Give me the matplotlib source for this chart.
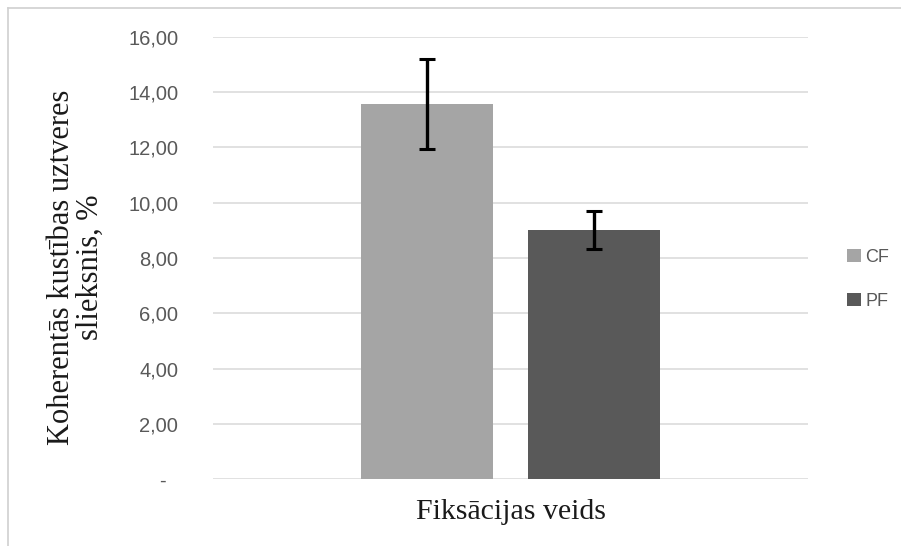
import matplotlib
matplotlib.use("Agg")
import matplotlib.pyplot as plt
from matplotlib.lines import Line2D
from matplotlib.patches import Patch
from matplotlib.ticker import FixedLocator, FuncFormatter

# --- Data ---
series = ["CF", "PF"]
means = [13.57, 9.02]
errors = [1.63, 0.68]
colors = ["#A5A5A5", "#595959"]
y_ticks = [0, 2, 4, 6, 8, 10, 12, 14, 16]

fig = plt.figure(figsize=(9.01, 5.46), dpi=100)
ax = fig.add_axes([0.2364, 0.1222, 0.6604, 0.8106])

offsets = [-0.141, 0.141]
width = 0.222
for off, m, e, c in zip(offsets, means, errors, colors):
    ax.bar(off, m, width=width, color=c, zorder=2)
    ax.errorbar(off, m, yerr=e, fmt="none", ecolor="black", elinewidth=2.4,
                capsize=5.5, capthick=2.2, zorder=3)

ax.set_xlim(-0.5, 0.5)
ax.set_ylim(0, 16)
ax.yaxis.set_major_locator(FixedLocator(y_ticks))
ax.yaxis.set_major_formatter(
    FuncFormatter(lambda v, p: "-  " if v == 0 else f"{v:.2f}".replace(".", ",")))
ax.set_xticks([])
ax.grid(axis="y", color="#D9D9D9", linewidth=1.1, zorder=0)
for s in ax.spines.values():
    s.set_visible(False)
ax.tick_params(axis="y", length=0, pad=25, labelsize=14.5, labelcolor="#595959")
for lbl in ax.get_yticklabels():
    lbl.set_fontfamily("Liberation Sans")

ax.set_xlabel("Fiksācijas veids", family="Liberation Serif", fontsize=21.5,
              color="#1a1a1a", labelpad=14)
fig.text(0.084, 0.51, "Koherentās kustības uztveres\nslieksnis, %",
         rotation=90, ha="center", va="center", family="Liberation Serif",
         fontsize=22, linespacing=1.0, color="#1a1a1a")

handles = [Patch(facecolor=c, label=s) for s, c in zip(series, colors)]
leg = fig.legend(handles=handles, loc="center left", bbox_to_anchor=(0.922, 0.488),
                 frameon=False, handlelength=0.75, handleheight=0.75,
                 handletextpad=0.25, labelspacing=1.5,
                 prop={"family": "Liberation Sans", "size": 13})
for t in leg.get_texts():
    t.set_color("#595959")

# light frame lines (top and left) like the source
fig.add_artist(Line2D([0.009, 1.0], [0.985, 0.985], color="#D0D0D0", linewidth=1.2))
fig.add_artist(Line2D([0.009, 0.009], [0.0, 0.985], color="#D0D0D0", linewidth=1.2))

fig.savefig("out.png", dpi=100, facecolor="white")
